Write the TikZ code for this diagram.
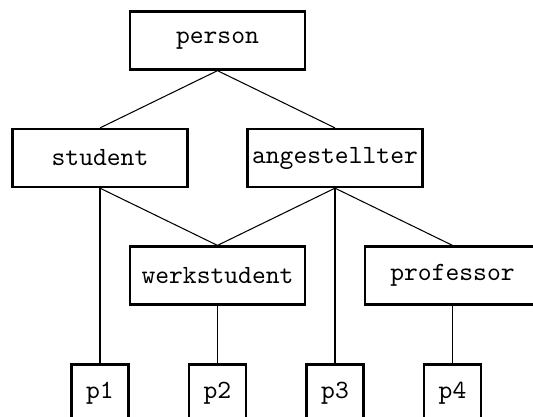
\documentclass[tikz,border=0pt]{standalone}
\usepackage{tikz}

\begin{document}
\begin{tikzpicture}[
    x=44.65pt, y=44.65pt,
    class/.style={rectangle, draw=black, line width=0.9pt, align=center, minimum height=22pt, minimum width=66.5pt, inner sep=1pt, font=\ttfamily},
    obj/.style={rectangle, draw=black, line width=0.9pt, minimum height=21.6pt, minimum width=21.6pt, font=\ttfamily},
    isa/.style={thin, draw=black},
    inst/.style={line width=0.65pt, draw=black}
]
    \useasboundingbox (-0.851,0.345) rectangle (3.685,-3.196);

    % classes
    \node [class] (person) at (1,0) {person};
    \node [class] (student) at (0,-1) {student};
    \node [class] (angest) at (2,-1) {angestellter};
    \node [class] (werkst) at (1,-2) {werkstudent};
    \node [class] (prof) at (3,-2) {professor};

    % instances
    \node [obj] (p1) at (0,-3) {p1};
    \node [obj] (p2) at (1,-3) {p2};
    \node [obj] (p3) at (2,-3) {p3};
    \node [obj] (p4) at (3,-3) {p4};

    \draw [isa] (person.south) -- (student.north);
    \draw [isa] (person.south) -- (angest.north);
    \draw [isa] (student.south) -- (werkst.north);
    \draw [isa] (angest.south) -- (werkst.north);
    \draw [isa] (angest.south) -- (prof.north);

    \draw [inst] (student.south) -- (p1.north);
    \draw [inst] (werkst.south) -- (p2.north);
    \draw [inst, line width=0.9pt] (angest.south) -- (p3.north);
    \draw [inst] (prof.south) -- (p4.north);
\end{tikzpicture}
\end{document}
